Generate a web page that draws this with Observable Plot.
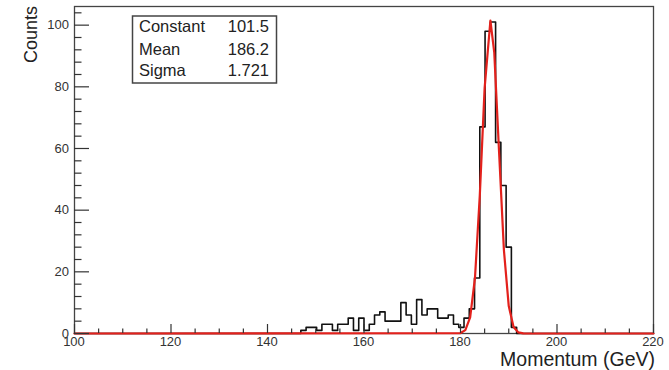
<!DOCTYPE html>
<html><head><meta charset="utf-8">
<script src="https://cdn.jsdelivr.net/npm/d3@7"></script>
<script src="https://cdn.jsdelivr.net/npm/@observablehq/plot@0.6"></script>
<style>
html,body{margin:0;padding:0;background:#fff;}
#chart{position:relative;width:669px;height:370px;}
</style></head><body><div id="chart"></div>
<script>
// ---- data ----
const xDomain = [100, 220];
const yMax = 106.05;
const nBins = 110;              // histogram bins over 100..220
const firstFilledBin = 43;      // index of the first non-empty bin
const counts = [1,2,2,1,3,3,1,3,3,5,1,5,1,3,6,7,4,4,4,10,6,3,11,6,8,8,5,5,6,3,2,5,8,18,67,98,101,62,48,28,2,0];
const fitX = [100,180,181,182,183,184,185,186.2,187,188,189,190,191,192,193,220];
const fitY = [0,0.15,1.1,5.2,18,44.8,79.6,101.5,91.1,58.7,27,8.9,2.1,0.35,0.05,0];
const xTicks = [100,120,140,160,180,200,220];
const xMinor = [105,110,115,125,130,135,145,150,155,165,170,175,185,190,195,205,210,215];
const yTicks = [0,20,40,60,80,100];
const yMinor = [4,8,12,16,24,28,32,36,44,48,52,56,64,68,72,76,84,88,92,96,104];
const statNames = ["Constant","Mean","Sigma"];
const statValues = ["101.5","186.2","1.721"];
const xTitle = "Momentum (GeV)";
const yTitle = "Counts";

// ---- build ----
const W = 669, H = 370;
const mL = 74, mR = 16, mT = 6, mB = 37;
const plotW = W - mL - mR, plotH = H - mT - mB;
const xPerPx = (xDomain[1]-xDomain[0]) / plotW;
const yPerPx = yMax / plotH;
const bw = (xDomain[1]-xDomain[0]) / nBins;

const hist = [{x: xDomain[0], y: 0}];
counts.forEach((c, i) => hist.push({x: xDomain[0] + (firstFilledBin + i) * bw, y: c}));
hist.push({x: xDomain[0] + (firstFilledBin + counts.length) * bw, y: 0});
hist.push({x: xDomain[1], y: 0});
const fit = fitX.map((x, i) => ({x, y: fitY[i]}));

const ink = "#333";
const font = "'Liberation Sans', Arial, sans-serif";
const plot = Plot.plot({
  width: W, height: H,
  marginLeft: mL, marginRight: mR, marginTop: mT, marginBottom: mB,
  style: {fontFamily: font, color: ink, background: "#fff"},
  x: {domain: xDomain, axis: null},
  y: {domain: [0, yMax], axis: null},
  marks: [
    Plot.frame({stroke: "#444", strokeWidth: 1.3}),
    Plot.line(hist, {x: "x", y: "y", curve: "step-after", stroke: "#111", strokeWidth: 1.6}),
    Plot.line(fit, {x: "x", y: "y", stroke: "#e3211c", strokeWidth: 2.2}),
    // y ticks (inward)
    Plot.ruleY(yTicks, {y: d => d, x1: xDomain[0], x2: xDomain[0] + 15 * xPerPx, stroke: ink, strokeWidth: 1.2}),
    Plot.ruleY(yMinor, {y: d => d, x1: xDomain[0], x2: xDomain[0] + 7.5 * xPerPx, stroke: ink, strokeWidth: 1.2}),
    // x ticks (inward)
    Plot.ruleX(xTicks, {x: d => d, y1: 0, y2: 9 * yPerPx, stroke: ink, strokeWidth: 1.2}),
    Plot.ruleX(xMinor, {x: d => d, y1: 0, y2: 4.5 * yPerPx, stroke: ink, strokeWidth: 1.2})
  ]
});
document.getElementById("chart").appendChild(plot);

const svg = d3.select(plot);
const sx = plot.scale("x"), sy = plot.scale("y");
// tick labels through the plot's own scales
const lab = svg.append("g").attr("font-family", font).attr("font-size", 13).attr("fill", ink);
yTicks.forEach(v => lab.append("text").text(String(v))
  .attr("x", sx.apply(xDomain[0]) - 5).attr("y", sy.apply(v)).attr("dy", "0.36em")
  .attr("text-anchor", "end"));
xTicks.forEach(v => lab.append("text").text(String(v))
  .attr("x", sx.apply(v)).attr("y", sy.apply(0) + 12.5)
  .attr("text-anchor", "middle"));
// axis titles
svg.append("text").text(yTitle)
  .attr("transform", "translate(37,6) rotate(-90)")
  .attr("text-anchor", "end").attr("font-family", font).attr("font-size", 18).attr("fill", "#222");
svg.append("text").text(xTitle)
  .attr("x", 655).attr("y", 365.5)
  .attr("text-anchor", "end").attr("font-family", font).attr("font-size", 19.5).attr("fill", "#222");
// stats box
const g = svg.append("g");
g.append("rect").attr("x", 132.5).attr("y", 16).attr("width", 144).attr("height", 67)
  .attr("fill", "#fff").attr("stroke", "#444").attr("stroke-width", 1.5);
const base = [32, 54.5, 76];
statNames.forEach((n, i) => {
  g.append("text").text(n).attr("x", 139).attr("y", base[i])
    .attr("text-anchor", "start").attr("font-family", font).attr("font-size", 16.5).attr("fill", "#222");
  g.append("text").text(statValues[i]).attr("x", 269).attr("y", base[i])
    .attr("text-anchor", "end").attr("font-family", font).attr("font-size", 16.5).attr("fill", "#222");
});
</script>
</body></html>
